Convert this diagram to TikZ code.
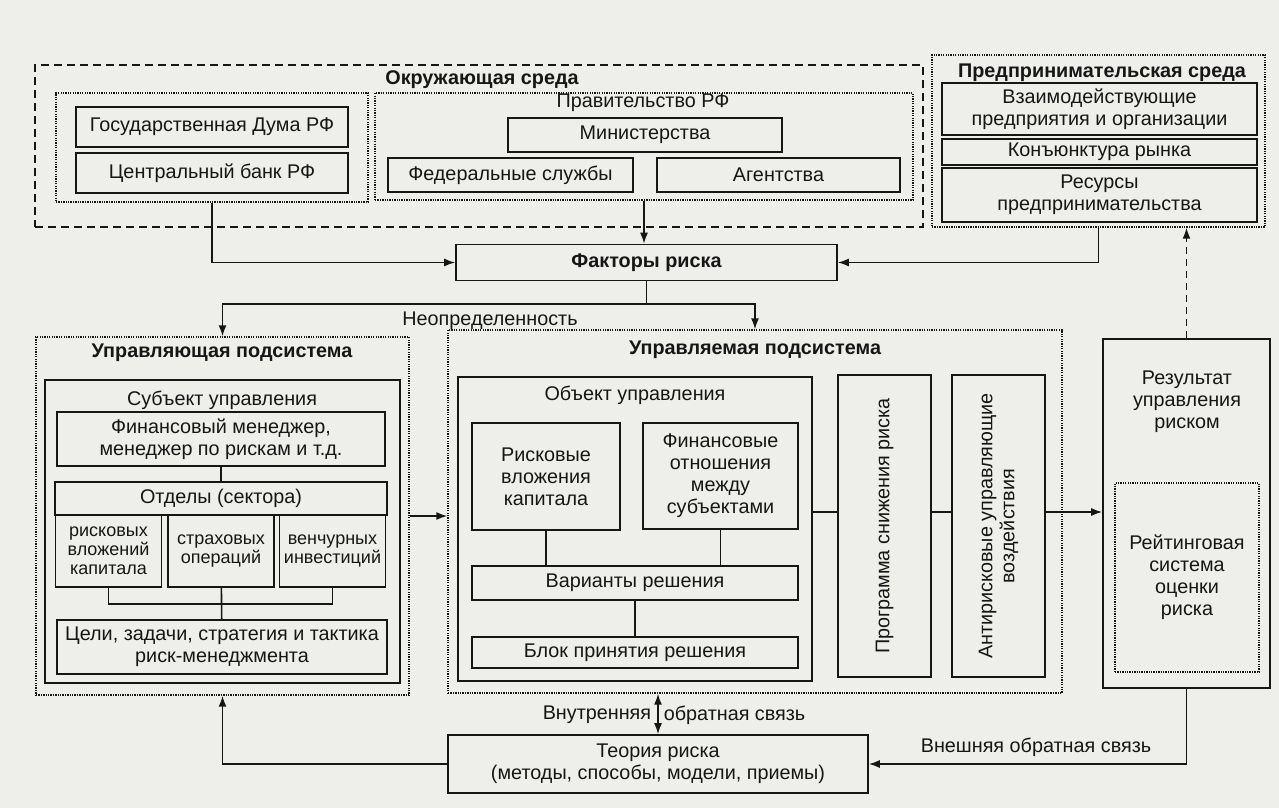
\documentclass[tikz,border=0pt]{standalone}
\usepackage{fontspec}
\setmainfont{Liberation Sans}
\usetikzlibrary{arrows.meta}
\definecolor{paper}{RGB}{238,238,235}
\definecolor{ink}{RGB}{22,22,22}

\begin{document}
\begin{tikzpicture}[x=1pt,y=-1pt,line width=1.6pt,color=ink,
    every node/.style={font=\fontsize{19.8}{22}\selectfont,align=center,inner sep=0pt}]
    \tikzstyle{arr}=[-{Latex[length=11pt,width=8pt]}]
    \tikzstyle{sbox}=[draw,rectangle]
    \tikzstyle{dbox}=[draw,rectangle,line width=1.4pt,dash pattern=on 1.3pt off 1.1pt]
    \tikzstyle{ebox}=[draw,rectangle,line width=1.8pt,dash pattern=on 8pt off 5pt]
    \tikzstyle{ttl}=[font=\fontsize{19.8}{22}\selectfont\bfseries]
    \tikzstyle{small}=[font=\fontsize{18}{19}\selectfont]

    \fill[paper] (0,0) rectangle (1279,808);
    \useasboundingbox (0,0) rectangle (1279,808);

    % environment
    \node[ebox,minimum width=888pt,minimum height=162pt] (env) at (479,146) {};
    \node[ttl] (envT) at (482,80) {Окружающая среда};
    \node[dbox,minimum width=312pt,minimum height=109pt] (govL) at (212,147.5) {};
    \node[sbox,minimum width=272pt,minimum height=40pt] (duma) at (212,127) {Государственная Дума РФ};
    \node[sbox,minimum width=272pt,minimum height=40pt] (cbank) at (212,173) {Центральный банк РФ};
    \node[dbox,minimum width=538pt,minimum height=107pt] (govR) at (644,146.5) {};
    \node (govT) at (643,103) {Правительство РФ};
    \node[sbox,minimum width=274pt,minimum height=34pt] (minist) at (645,135) {Министерства};
    \node[sbox,minimum width=245pt,minimum height=34pt] (fedsl) at (510.5,175) {Федеральные службы};
    \node[sbox,minimum width=243pt,minimum height=34pt] (agent) at (778.5,175) {Агентства};

    \node[dbox,minimum width=333pt,minimum height=172pt] (biz) at (1098.5,141) {};
    \node[ttl] (bizT) at (1102,73) {Предпринимательская среда};
    \node[sbox,minimum width=315pt,minimum height=52pt] (bizA) at (1099.5,109) {Взаимодействующие\\предприятия и организации};
    \node[sbox,minimum width=315pt,minimum height=26pt] (bizB) at (1099.5,152) {Конъюнктура рынка};
    \node[sbox,minimum width=315pt,minimum height=54pt] (bizC) at (1099.5,195) {Ресурсы\\предпринимательства};

    \node[sbox,ttl,minimum width=381pt,minimum height=36pt] (fact) at (646.5,262.5) {Факторы риска};
    \node (uncert) at (490,321) {Неопределенность};

    % managing subsystem
    \node[dbox,minimum width=373pt,minimum height=358pt] (ctrl) at (222.5,516) {};
    \node[ttl] (ctrlT) at (222,353) {Управляющая подсистема};
    \node[sbox,minimum width=355pt,minimum height=303pt] (subj) at (222.5,531.5) {};
    \node (subjT) at (222,400) {Субъект управления};
    \node[sbox,minimum width=328pt,minimum height=54pt] (fin) at (221,439) {Финансовый менеджер,\\менеджер по рискам и т.д.};
    \node[sbox,minimum width=332pt,minimum height=33pt] (dept) at (221,498.5) {Отделы (сектора)};
    \foreach \n/\x/\t in {d1/108.5/{рисковых\\вложений\\капитала}, d2/221/{страховых\\операций}, d3/332.5/{венчурных\\инвестиций}} {
        \node[sbox,small,minimum width=106pt,minimum height=72pt] (\n) at (\x,551) {\t};
    }
    \node[sbox,minimum width=330pt,minimum height=54pt] (goal) at (222,647) {Цели, задачи, стратегия и тактика\\риск-менеджмента};

    \draw (fin) -- (dept);
    \draw (d1.south) |- (221,604) -| (d3.south);
    \draw (d2) -- (goal);

    % managed subsystem
    \node[dbox,minimum width=614pt,minimum height=363pt] (obj) at (755,511.5) {};
    \node[ttl] (objT) at (755,350) {Управляемая подсистема};
    \node[sbox,minimum width=354pt,minimum height=304pt] (objB) at (635,529) {};
    \node (objBT) at (635,395) {Объект управления};
    \node[sbox,minimum width=148pt,minimum height=107pt] (inv) at (546,476.5) {Рисковые\\вложения\\капитала};
    \node[sbox,minimum width=155pt,minimum height=106pt] (fin2) at (720.5,476) {Финансовые\\отношения\\между\\субъектами};
    \node[sbox,minimum width=326pt,minimum height=34pt] (var) at (635,583) {Варианты решения};
    \node[sbox,minimum width=326pt,minimum height=31pt] (dec) at (635,652.5) {Блок принятия решения};
    \node[sbox,minimum width=93pt,minimum height=302pt] (prog) at (884.5,526) {};
    \node[rotate=90] (progT) at (prog) {Программа снижения риска};
    \node[sbox,minimum width=93pt,minimum height=302pt] (anti) at (998.5,526) {};
    \node[rotate=90] (antiT) at (anti) {Антирисковые управляющие\\воздействия};

    \draw (inv.south) -- (inv.south |- var.north);
    \draw (fin2.south) -- (fin2.south |- var.north);
    \draw (var) -- (dec);

    % result
    \node[sbox,minimum width=167pt,minimum height=349pt] (res) at (1186.5,513.5) {};
    \node (resT) at (1187,402) {Результат\\управления\\риском};
    \node[dbox,minimum width=144pt,minimum height=189pt] (rate) at (1187,577.5) {Рейтинговая\\система\\оценки\\риска};

    \node[sbox,minimum width=420pt,minimum height=58pt] (theory) at (658,764) {%
        \fontsize{19.8}{25}\selectfont Теория риска\\(методы, способы, модели, приемы)};

    \coordinate (mid) at (0,512);
    \coordinate (fork) at (fact.south |- 0,304);

    % connectors
    \draw[arr] (govL.south) |- (fact.west);
    \draw[arr] (govR.south) -- (govR.south |- fact.north);
    \draw[arr] (biz.south) |- (fact.east);
    \draw[arr] (fact.south) -- (fork) -| (ctrl.north);
    \draw[arr] (fork) -| (obj.north);
    \draw[arr] (ctrl.east) -- (ctrl.east -| obj.west);
    \draw (objB.east |- mid) -- (prog.west |- mid);
    \draw (prog.east |- mid) -- (anti.west |- mid);
    \draw[arr] (anti.east |- mid) -- (res.west |- mid);
    \draw[arr,dash pattern=on 7pt off 5pt] (res.north) -- (res.north |- biz.south);
    \draw[arr] (res.south) |- (theory.east);
    \draw[arr] (theory.west) -| (ctrl.south);
    \draw[{Latex[length=11pt,width=8pt]}-{Latex[length=11pt,width=8pt]}] (theory.north) -- (theory.north |- obj.south);

    \node[anchor=east] (intL) at (652,715) {Внутренняя};
    \node[anchor=west] (intR) at (663,715) {обратная связь};
    \node (extL) at (1036,747) {Внешняя обратная связь};

\end{tikzpicture}
\end{document}
